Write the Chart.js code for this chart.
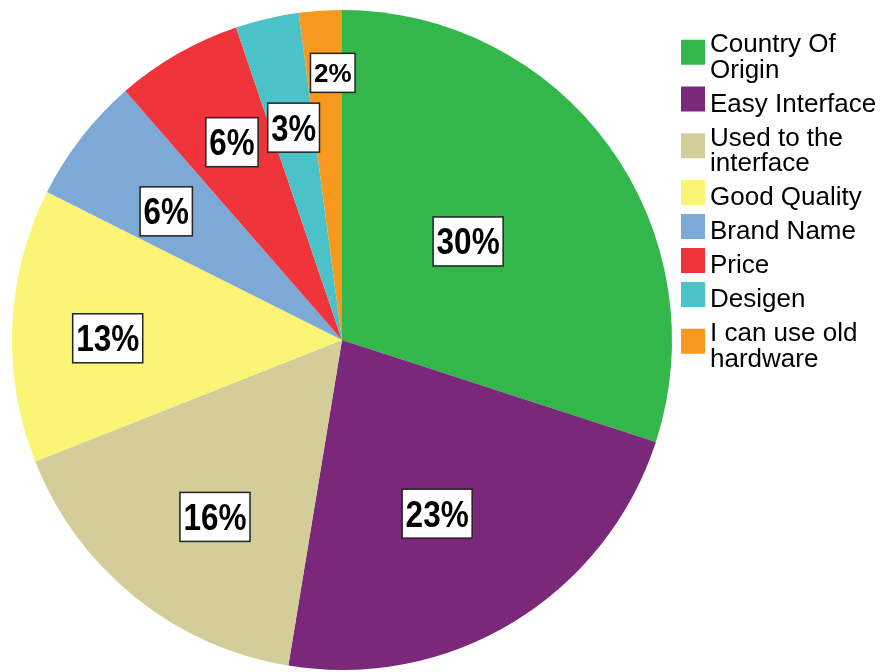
<!DOCTYPE html>
<html>
<head>
<meta charset="utf-8">
<script src="https://cdn.jsdelivr.net/npm/chart.js@4/dist/chart.umd.min.js"></script>
<style>
  html, body { margin: 0; padding: 0; background: #fff; }
  #wrap { width: 885px; height: 672px; }
</style>
</head>
<body>
<div id="wrap"><canvas id="grafica" width="885" height="672"></canvas></div>
<script>
// Datos del gráfico
var categorias = ['Country Of Origin', 'Easy Interface', 'Used to the interface', 'Good Quality',
                  'Brand Name', 'Price', 'Desigen', 'I can use old hardware'];
var porcentajes = [30.0, 22.6, 16.4, 13.4, 6.2, 6.2, 3.1, 2.1];
var colores = ['#33b64a', '#7b287b', '#d3ce99', '#faf574', '#7ca9d5', '#f0343c', '#4ac2c7', '#f7991f'];

// Estilo de las etiquetas de porcentaje (distancia al centro, giro en grados y tamaño de letra)
var radioEtiqueta = [0.485, 0.60, 0.66, 0.71, 0.66, 0.686, 0.66, 0.81];
var giroEtiqueta = [-2, 2.6, -3.2, -2.1, -1.6, 0.8, 0.3, 1.8];
var tamEtiqueta = [36, 36, 36, 36, 36, 36, 36, 26];
var escalaEtiqueta = [0.875, 0.875, 0.875, 0.875, 0.87, 0.87, 0.86, 1.0];

// Etiquetas con recuadro blanco dentro de cada sector
var pluginEtiquetas = {
    id: 'etiquetas',
    afterDatasetsDraw: function(chart) {
        var ctx = chart.ctx;
        var meta = chart.getDatasetMeta(0);
        var datos = chart.data.datasets[0].data;
        var total = datos.reduce(function(a, b) { return a + b; }, 0);
        meta.data.forEach(function(arco, i) {
            var p = arco.getProps(['x', 'y', 'startAngle', 'endAngle', 'outerRadius'], true);
            var medio = (p.startAngle + p.endAngle) / 2 + giroEtiqueta[i] * Math.PI / 180;
            var r = p.outerRadius * radioEtiqueta[i];
            var px = p.x + Math.cos(medio) * r;
            var py = p.y + Math.sin(medio) * r;
            var texto = Math.round(datos[i] / total * 100) + '%';
            var fs = tamEtiqueta[i];
            var sx = escalaEtiqueta[i];

            ctx.save();
            ctx.font = 'bold ' + fs + 'px "Liberation Sans", Arial, sans-serif';
            var w = ctx.measureText(texto).width * sx;
            var bw = w + 7;
            var bh = fs + 13;
            ctx.fillStyle = '#fff';
            ctx.fillRect(px - bw / 2, py - bh / 2, bw, bh);
            ctx.strokeStyle = '#222';
            ctx.lineWidth = 1.5;
            ctx.strokeRect(px - bw / 2, py - bh / 2, bw, bh);

            ctx.translate(px, py);
            ctx.scale(sx, 1);
            ctx.fillStyle = '#000';
            ctx.textAlign = 'center';
            ctx.textBaseline = 'alphabetic';
            ctx.fillText(texto, 0, fs * 0.716 / 2);
            ctx.restore();
        });
    }
};

// Leyenda a la derecha, con ajuste de línea
var pluginLeyenda = {
    id: 'leyendaDerecha',
    afterDraw: function(chart) {
        var ctx = chart.ctx;
        var colorSet = chart.data.datasets[0].backgroundColor;
        var xCuadro = 681, xTexto = 710, anchoMax = 172;
        var paso = 34, interlinea = 25.5;
        var base = 52;

        ctx.save();
        ctx.font = '26px "Liberation Sans", Arial, sans-serif';
        ctx.textBaseline = 'alphabetic';
        ctx.textAlign = 'left';
        chart.data.labels.forEach(function(etiqueta, i) {
            // partir el texto en líneas
            var palabras = etiqueta.split(' ');
            var lineas = [];
            var actual = '';
            palabras.forEach(function(p) {
                var prueba = actual ? actual + ' ' + p : p;
                if (actual && ctx.measureText(prueba).width > anchoMax) {
                    lineas.push(actual);
                    actual = p;
                } else {
                    actual = prueba;
                }
            });
            lineas.push(actual);

            var ultima = base + (lineas.length - 1) * interlinea;
            var centro = (base + ultima) / 2 - 12.5;
            ctx.fillStyle = colorSet[i];
            ctx.fillRect(xCuadro, centro - 12.5, 24, 25);

            ctx.fillStyle = '#000';
            lineas.forEach(function(l, k) {
                ctx.fillText(l, xTexto, base + k * interlinea);
            });
            base = ultima + paso;
        });
        ctx.restore();
    }
};

var ctxGrafica = document.getElementById('grafica').getContext('2d');
var miGrafica = new Chart(ctxGrafica, {
    type: 'pie',
    data: {
        labels: categorias,
        datasets: [{
            data: porcentajes,
            backgroundColor: colores,
            borderWidth: 0
        }]
    },
    options: {
        responsive: false,
        animation: false,
        layout: {
            padding: { left: 12, right: 213, top: 10, bottom: 2 }
        },
        plugins: {
            legend: { display: false },
            tooltip: { enabled: false }
        }
    },
    plugins: [pluginEtiquetas, pluginLeyenda]
});
</script>
</body>
</html>
